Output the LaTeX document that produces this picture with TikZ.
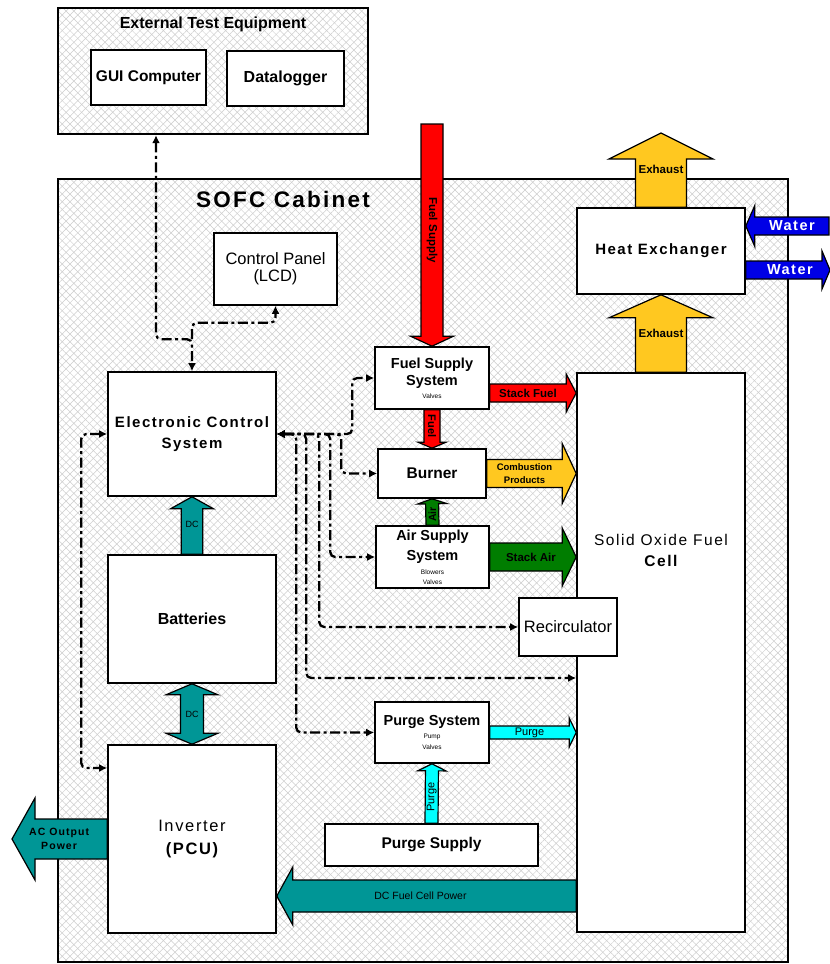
\documentclass[tikz,border=0pt]{standalone}
\usepackage{fontspec}
\setmainfont{Liberation Sans}
\newfontfamily\widesf[LetterSpace=10]{Liberation Sans}
\usetikzlibrary{arrows.meta, calc, patterns.meta}

\definecolor{fuelred}{RGB}{255,0,0}
\definecolor{exhgold}{RGB}{255,200,32}
\definecolor{airgreen}{RGB}{0,125,0}
\definecolor{purgecyan}{RGB}{0,255,255}
\definecolor{dcteal}{RGB}{0,150,150}
\definecolor{waterblue}{RGB}{0,0,230}
\definecolor{hatch}{RGB}{205,205,205}

\newcommand{\fsz}[2]{\fontsize{#1}{#2}\selectfont}
\newcommand{\smallnote}{\mdseries\fsz{6.5}{8}}

% block arrow: [label opts]{fill}{tail}{tip}{shaft half}{head half}{head length}{label}
\newcommand{\fatarrow}[8][]{%
  \coordinate (fa-base) at ($(#4)!#7pt!(#3)$);
  \draw[fat, fill=#2] ($(#3)!#5pt!90:(#4)$) -- ($(fa-base)!#5pt!90:(#4)$)
    -- ($(fa-base)!#6pt!90:(#4)$) -- (#4) -- ($(fa-base)!#6pt!-90:(#4)$)
    -- ($(fa-base)!#5pt!-90:(#4)$) -- ($(#3)!#5pt!-90:(#4)$) -- cycle;
  \path (#3) -- (fa-base) node[midway, tag, #1] {#8};}

% same, with a head at both ends
\newcommand{\dblarrow}[8][]{%
  \coordinate (da-a) at ($(#3)!#7pt!(#4)$);
  \coordinate (da-b) at ($(#4)!#7pt!(#3)$);
  \draw[fat, fill=#2] (#3) -- ($(da-a)!#6pt!90:(#4)$) -- ($(da-a)!#5pt!90:(#4)$)
    -- ($(da-b)!#5pt!90:(#4)$) -- ($(da-b)!#6pt!90:(#4)$) -- (#4)
    -- ($(da-b)!#6pt!-90:(#4)$) -- ($(da-b)!#5pt!-90:(#4)$)
    -- ($(da-a)!#5pt!-90:(#4)$) -- ($(da-a)!#6pt!-90:(#4)$) -- cycle;
  \path (#3) -- (#4) node[midway, tag, #1] {#8};}

\begin{document}
\begin{tikzpicture}[x=1pt, y=-1pt, >={Latex[length=8pt,width=8pt]},
    housing/.style={draw, line width=2.4pt, preaction={fill=white},
      preaction={pattern={Lines[angle=45,distance=5.5pt,line width=.5pt]}, pattern color=hatch},
      preaction={pattern={Lines[angle=-45,distance=5.5pt,line width=.5pt]}, pattern color=hatch}},
    box/.style={draw, fill=white, line width=1.6pt, inner sep=0pt, align=center},
    fat/.style={draw, line width=1.2pt, line join=miter},
    tag/.style={inner sep=0pt, align=center, font=\bfseries\fsz{11.5}{13}},
    ctl/.style={line width=2.3pt, dash pattern=on 10pt off 3.5pt on 3pt off 3.5pt, rounded corners=5pt}
  ]
\useasboundingbox (0,0) rectangle (830,964);

% test bench outside the cabinet
\node[housing, minimum width=310pt, minimum height=126pt] (ete) at (213,71) {};
\node[font=\bfseries\fsz{16}{18}] (ete-title) at (213,24) {External Test Equipment};
\node[box, font=\bfseries\fsz{15.5}{18}, minimum width=115pt, minimum height=55pt] (gui) at (148.5,77.5) {GUI Computer};
\node[box, font=\bfseries\fsz{16}{18}, minimum width=117pt, minimum height=55pt] (dlog) at (285.5,78.5) {Datalogger};

% cabinet
\node[housing, minimum width=730pt, minimum height=783pt] (cab) at (423,570.5) {};
\node[font=\widesf\bfseries\fsz{22.5}{24}] (cab-title) at (283,199) {SOFC Cabinet};

\node[box, font=\fsz{16.5}{17}, minimum width=123pt, minimum height=72pt] (cp) at (275.5,269) {Control Panel\\(LCD)};
\node[box, font=\widesf\bfseries\fsz{15}{21}, minimum width=168pt, minimum height=124pt] (ecs) at (192,434) {Electronic Control\\System};
\node[box, font=\bfseries\fsz{16}{18}, minimum width=168pt, minimum height=128pt] (bat) at (192,619) {Batteries};
\node[box, font=\widesf\fsz{16.5}{23}, minimum width=168pt, minimum height=188pt] (inv) at (192,839) {Inverter\\\bfseries(PCU)};

\node[box, font=\bfseries\fsz{14.5}{17}, minimum width=114pt, minimum height=62pt] (fss) at (432,378) {Fuel Supply\\System\\[-4pt]\smallnote Valves};
\node[box, font=\bfseries\fsz{15.5}{18}, minimum width=108pt, minimum height=49pt] (bur) at (432,473.5) {Burner};
\node[box, font=\bfseries\fsz{14.5}{20}, minimum width=113pt, minimum height=62pt] (air) at (432.5,557) {Air Supply\\System\\[-6pt]\smallnote Blowers\\[-10pt]\smallnote Valves};
\node[box, font=\bfseries\fsz{14.5}{18}, minimum width=114pt, minimum height=61pt] (pur) at (432,732.5) {Purge System\\[-5pt]\smallnote Pump\\[-7pt]\smallnote Valves};
\node[box, font=\bfseries\fsz{15.5}{18}, minimum width=213pt, minimum height=42pt] (pus) at (431.5,845) {Purge Supply};

\node[box, minimum width=168pt, minimum height=559pt] (sofc) at (661,652.5) {};
\node[font=\widesf\fsz{15.5}{21}, align=center] (sofc-name) at (661,550) {Solid Oxide Fuel\\\bfseries Cell};
\node[box, font=\fsz{16.5}{18}, minimum width=98pt, minimum height=58pt] (rec) at (568,627) {Recirculator};
\node[box, font=\widesf\bfseries\fsz{15}{18}, minimum width=168pt, minimum height=86pt] (hx) at (661,251) {Heat Exchanger};

% control and data lines
\draw[ctl, <->] ([xshift=-57pt]ete.south) |- ([yshift=32pt]ecs.north) -- (ecs.north);
\draw[ctl, ->] ([yshift=32pt]ecs.north) |- ([yshift=-17pt]cp.south) -- (cp.south);
\draw[ctl, <->] (ecs.west) -- ++(-26,0) |- ([yshift=71pt]inv.west);
\coordinate (sofc-ctl) at ([yshift=-25.5pt]sofc.west);
\draw[ctl, <->] (ecs.east) -| ([xshift=-78pt]pur.west) -- (pur.west);
\draw[ctl, <->] (ecs.east) -| ([xshift=-270pt]sofc-ctl) -- (sofc-ctl);
\draw[ctl, <->] (ecs.east) -| ([xshift=-199pt]rec.west) -- (rec.west);
\draw[ctl, <->] (ecs.east) -| ([xshift=-45pt]air.west) -- (air.west);
\draw[ctl, <->] (ecs.east) -| ([xshift=-36pt]bur.west) -- (bur.west);
\draw[ctl, <->] (ecs.east) -| ([xshift=-22pt]fss.west) -- (fss.west);

% fuel
\coordinate (fuel-in) at (432,124);
\fatarrow[rotate=-90, font=\bfseries\fsz{11.5}{12}]{fuelred}{fuel-in}{fss.north}{11}{21.5}{10}{Fuel Supply}
\fatarrow[rotate=-90, font=\bfseries\fsz{11}{12}]{fuelred}{fss.south}{bur.north}{8}{14}{6}{Fuel}
\coordinate (sfuel-a) at ([yshift=-15pt]fss.east);
\coordinate (sfuel-b) at (sfuel-a -| sofc.west);
\fatarrow{fuelred}{sfuel-a}{sfuel-b}{9}{19}{10}{Stack Fuel}

% air and combustion
\fatarrow[rotate=90, font=\bfseries\fsz{10.5}{12}]{airgreen}{air.north}{bur.south}{6.5}{14.5}{5}{Air}
\coordinate (sair-b) at (air.east -| sofc.west);
\fatarrow[xshift=5pt]{airgreen}{air.east}{sair-b}{14}{29}{14}{Stack Air}
\coordinate (comb-b) at (bur.east -| sofc.west);
\fatarrow[font=\bfseries\fsz{9.5}{13}]{exhgold}{bur.east}{comb-b}{14}{30}{14}{Combustion\\Products}

% purge
\coordinate (purge-b) at (pur.east -| sofc.west);
\fatarrow[font=\fsz{11}{12}]{purgecyan}{pur.east}{purge-b}{6.5}{14.5}{7}{Purge}
\fatarrow[rotate=90, font=\fsz{11}{12}]{purgecyan}{pus.north}{pur.south}{6.5}{14}{7}{Purge}

% exhaust and water
\fatarrow[yshift=12pt]{exhgold}{sofc.north}{hx.south}{25.5}{52}{23}{Exhaust}
\coordinate (exh-out) at (661,133);
\fatarrow[yshift=13.5pt]{exhgold}{hx.north}{exh-out}{25.5}{52}{26}{Exhaust}
\coordinate (water-in) at (829,226);
\coordinate (water-hx) at (water-in -| hx.east);
\fatarrow[text=white, font=\widesf\bfseries\fsz{14.5}{15}]{waterblue}{water-in}{water-hx}{9}{20.5}{9}{Water}
\coordinate (water-ret) at ([yshift=-19pt]hx.east);
\coordinate (water-out) at (830,270);
\fatarrow[text=white, xshift=6pt, font=\widesf\bfseries\fsz{14.5}{15}]{waterblue}{water-ret}{water-out}{9}{19}{8}{Water}

% electrical power
\coordinate (dcp-a) at ([yshift=-243.5pt]sofc.west);
\coordinate (dcp-b) at (dcp-a -| inv.east);
\fatarrow[xshift=-14pt, font=\fsz{10.5}{12}]{dcteal}{dcp-a}{dcp-b}{16}{29}{16}{DC Fuel Cell Power}
\coordinate (ac-out) at (12,839);
\fatarrow[xshift=-12pt, font=\widesf\bfseries\fsz{10.5}{13.5}]{dcteal}{inv.west}{ac-out}{20}{41}{23}{AC Output\\Power}
\fatarrow[yshift=7pt, font=\fsz{9}{10}]{dcteal}{bat.north}{ecs.south}{10.7}{21.5}{12}{DC}
\dblarrow[font=\fsz{9}{10}]{dcteal}{bat.south}{inv.north}{11.5}{26}{11}{DC}

\end{tikzpicture}
\end{document}
